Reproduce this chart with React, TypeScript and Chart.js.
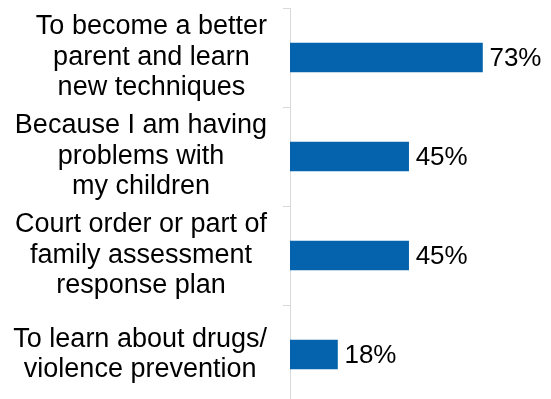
import React, { useEffect, useRef } from "react";
import { Chart, registerables } from "chart.js";

Chart.register(...registerables);

const categories: string[][] = [
  ["To become a better", "parent and learn", "new techniques"],
  ["Because I am having", "problems with", "my children"],
  ["Court order or part of", "family assessment", "response plan"],
  ["To learn about drugs/", "violence prevention"],
];
const values: number[] = [73, 45, 45, 18];
const valueLabels: string[] = ["73%", "45%", "45%", "18%"];

const LABEL_FONT = "27px 'Liberation Sans', Arial, sans-serif";
const VALUE_FONT = "26px 'Liberation Sans', Arial, sans-serif";
const LINE_H = 30.5;

const labelPlugin = {
  id: "customLabels",
  afterDraw(chart: any) {
    const ctx = chart.ctx;
    const yScale = chart.scales.y;
    const meta = chart.getDatasetMeta(0);
    ctx.save();
    ctx.font = LABEL_FONT;
    ctx.fillStyle = "#000000";
    ctx.textBaseline = "middle";
    const rightEdge = yScale.right - 23;
    categories.forEach((lines, i) => {
      const cy = yScale.getPixelForValue(i);
      const widest = Math.max(...lines.map((l) => ctx.measureText(l).width));
      const cx = rightEdge - widest / 2;
      ctx.textAlign = "center";
      const n = lines.length;
      lines.forEach((line, j) => {
        const y = cy + (j - (n - 1) / 2) * LINE_H;
        ctx.fillText(line, cx, y);
      });
    });
    ctx.font = VALUE_FONT;
    meta.data.forEach((bar: any, i: number) => {
      ctx.textAlign = "left";
      ctx.fillText(valueLabels[i], bar.x + 7, bar.y + 1);
    });
    ctx.restore();
  },
};

export default function App() {
  const ref = useRef<HTMLCanvasElement | null>(null);
  useEffect(() => {
    if (!ref.current) return;
    const chart = new Chart(ref.current, {
      type: "bar",
      data: {
        labels: categories.map((c) => c.join(" ")),
        datasets: [
          {
            data: values,
            backgroundColor: "#0563AE",
            barThickness: 29,
          },
        ],
      },
      options: {
        indexAxis: "y",
        animation: false,
        responsive: false,
        maintainAspectRatio: false,
        layout: { padding: { top: 8, left: 0, right: 0, bottom: 0 } },
        plugins: {
          legend: { display: false },
          tooltip: { enabled: false },
          title: { display: false },
        },
        scales: {
          x: {
            display: false,
            min: 0,
            max: 99,
          },
          y: {
            type: "category",
            offset: true,
            afterFit(scale: any) {
              scale.width = 290;
            },
            ticks: { display: false },
            grid: {
              offset: true,
              drawOnChartArea: false,
              drawTicks: true,
              tickLength: 7,
              color: "#d9d9d9",
              lineWidth: 1,
            },
            border: { color: "#d9d9d9", width: 1 },
          },
        },
      },
      plugins: [labelPlugin],
    });
    return () => chart.destroy();
  }, []);
  return (
    <div style={{ position: "fixed", left: 0, top: 0, width: 551, height: 404 }}>
      <canvas ref={ref} width={551} height={404} style={{ width: 551, height: 404 }} />
    </div>
  );
}
